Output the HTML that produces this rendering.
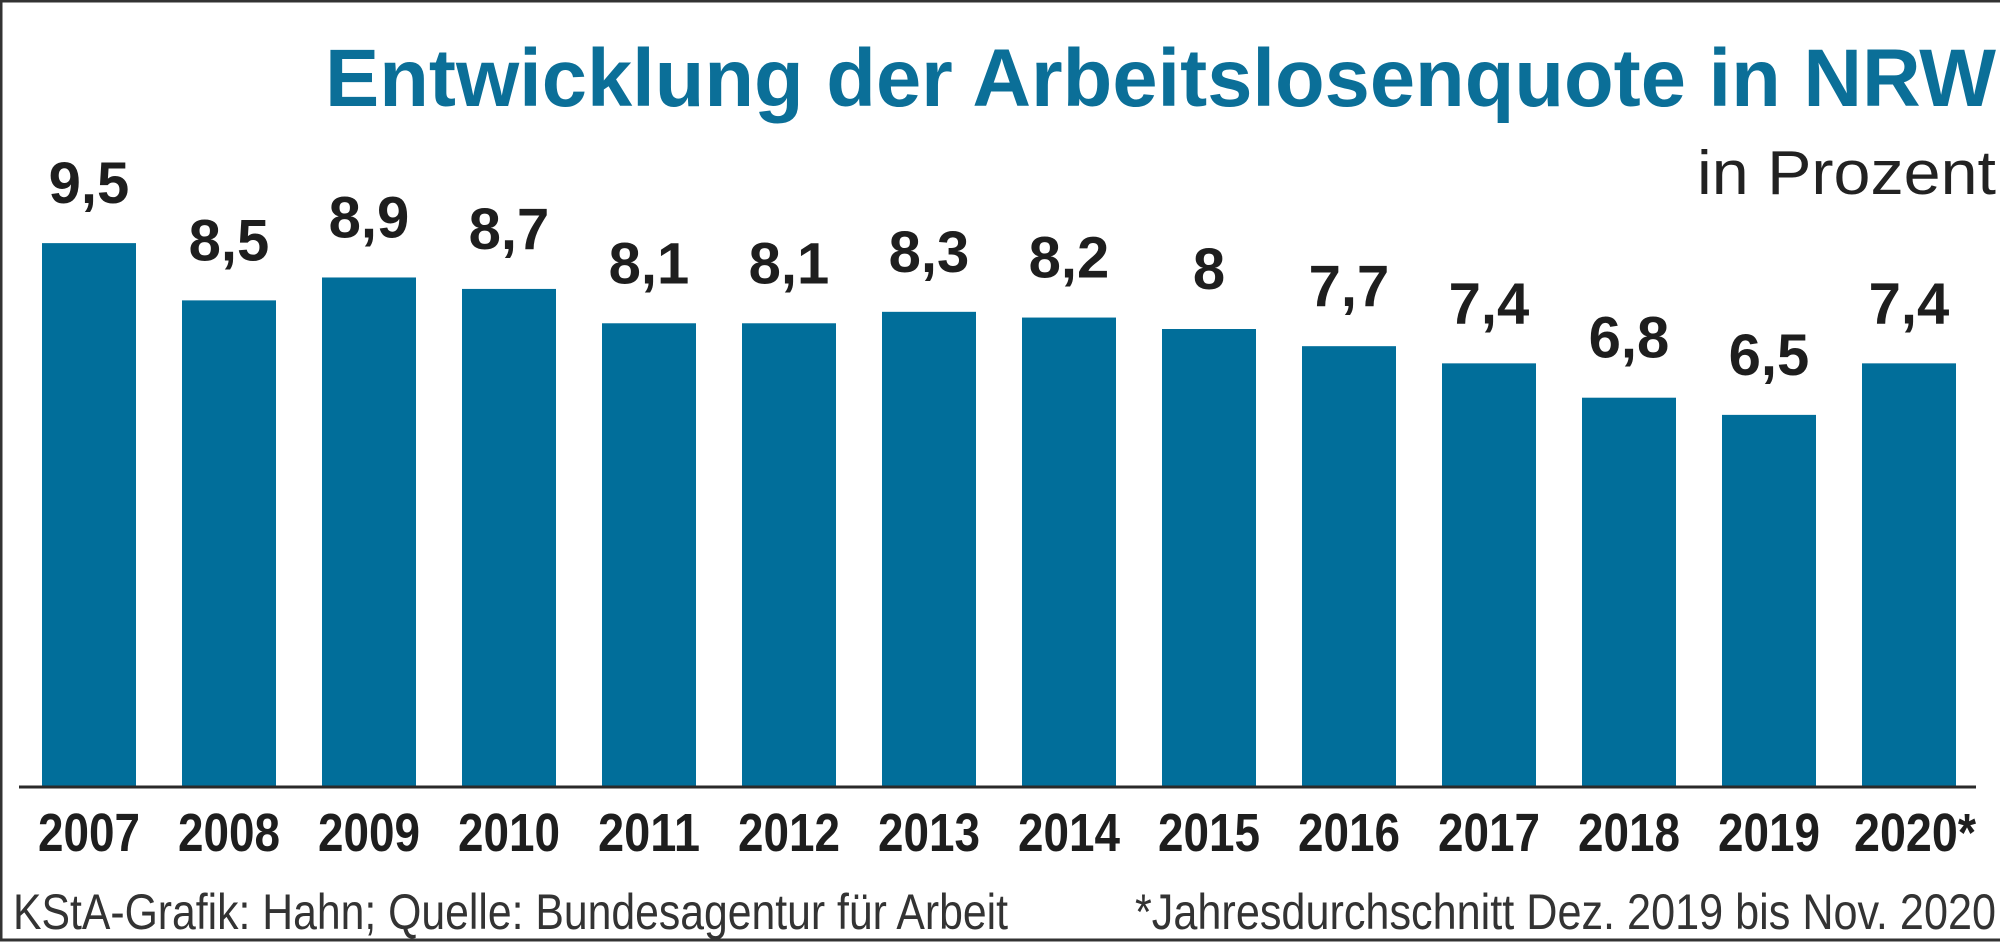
<!DOCTYPE html>
<html><head><meta charset="utf-8"><style>
html,body{margin:0;padding:0;background:#fff}
svg{display:block}
</style></head><body>
<svg id="chart" width="2000" height="950" xmlns="http://www.w3.org/2000/svg" font-family="'Liberation Sans', sans-serif">
<rect x="1" y="1" width="2010" height="939" fill="none" stroke="#333" stroke-width="3"/>
<text x="325" y="106" font-size="82" font-weight="bold" fill="#0b6f98" textLength="1671" lengthAdjust="spacingAndGlyphs">Entwicklung der Arbeitslosenquote in NRW</text>
<text x="1697" y="194" font-size="62" fill="#222" textLength="299" lengthAdjust="spacingAndGlyphs">in Prozent</text>
<g id="bars"></g>
<line x1="19" y1="787" x2="1976" y2="787" stroke="#2a2a2a" stroke-width="3"/>
<text x="13" y="929" font-size="50" fill="#333" textLength="995" lengthAdjust="spacingAndGlyphs">KStA-Grafik: Hahn; Quelle: Bundesagentur für Arbeit</text>
<text x="1135" y="929" font-size="50" fill="#333" textLength="861" lengthAdjust="spacingAndGlyphs">*Jahresdurchschnitt Dez. 2019 bis Nov. 2020</text>
</svg>
<script>
const categories = ["2007","2008","2009","2010","2011","2012","2013","2014","2015","2016","2017","2018","2019","2020*"];
const values = [9.5,8.5,8.9,8.7,8.1,8.1,8.3,8.2,8,7.7,7.4,6.8,6.5,7.4];
const valueLabels = ["9,5","8,5","8,9","8,7","8,1","8,1","8,3","8,2","8","7,7","7,4","6,8","6,5","7,4"];

const NS = "http://www.w3.org/2000/svg";
const baseY = 787, pxPerUnit = 57.25, x0 = 42, pitch = 140, barW = 94;
const xPos = i => x0 + i * pitch;
const yPos = v => baseY - v * pxPerUnit;
const g = document.getElementById("bars");
categories.forEach((c, i) => {
  const v = values[i];
  const r = document.createElementNS(NS, "rect");
  
  
  r.setAttribute("x", xPos(i));
  r.setAttribute("y", yPos(v));
  r.setAttribute("width", barW);
  r.setAttribute("height", baseY - yPos(v));
  r.setAttribute("fill", "#016e9a");
  g.appendChild(r);
  const t = document.createElementNS(NS, "text");
  
  
  t.setAttribute("x", xPos(i) + barW / 2);
  t.setAttribute("y", yPos(v) - 40);
  t.setAttribute("text-anchor", "middle");
  t.setAttribute("font-size", "58");
  t.setAttribute("font-weight", "bold");
  t.setAttribute("fill", "#1e1e1e");
  t.textContent = valueLabels[i];
  g.appendChild(t);
  const y = document.createElementNS(NS, "text");
  
  
  y.setAttribute("x", xPos(i) + barW / 2 + (c.length > 4 ? 6 : 0));
  y.setAttribute("y", 851);
  y.setAttribute("text-anchor", "middle");
  y.setAttribute("font-size", "54");
  y.setAttribute("font-weight", "bold");
  y.setAttribute("fill", "#1e1e1e");
  y.setAttribute("textLength", c.length > 4 ? 122 : 102);
  y.setAttribute("lengthAdjust", "spacingAndGlyphs");
  y.textContent = c;
  g.appendChild(y);
});
</script>
</body></html>
